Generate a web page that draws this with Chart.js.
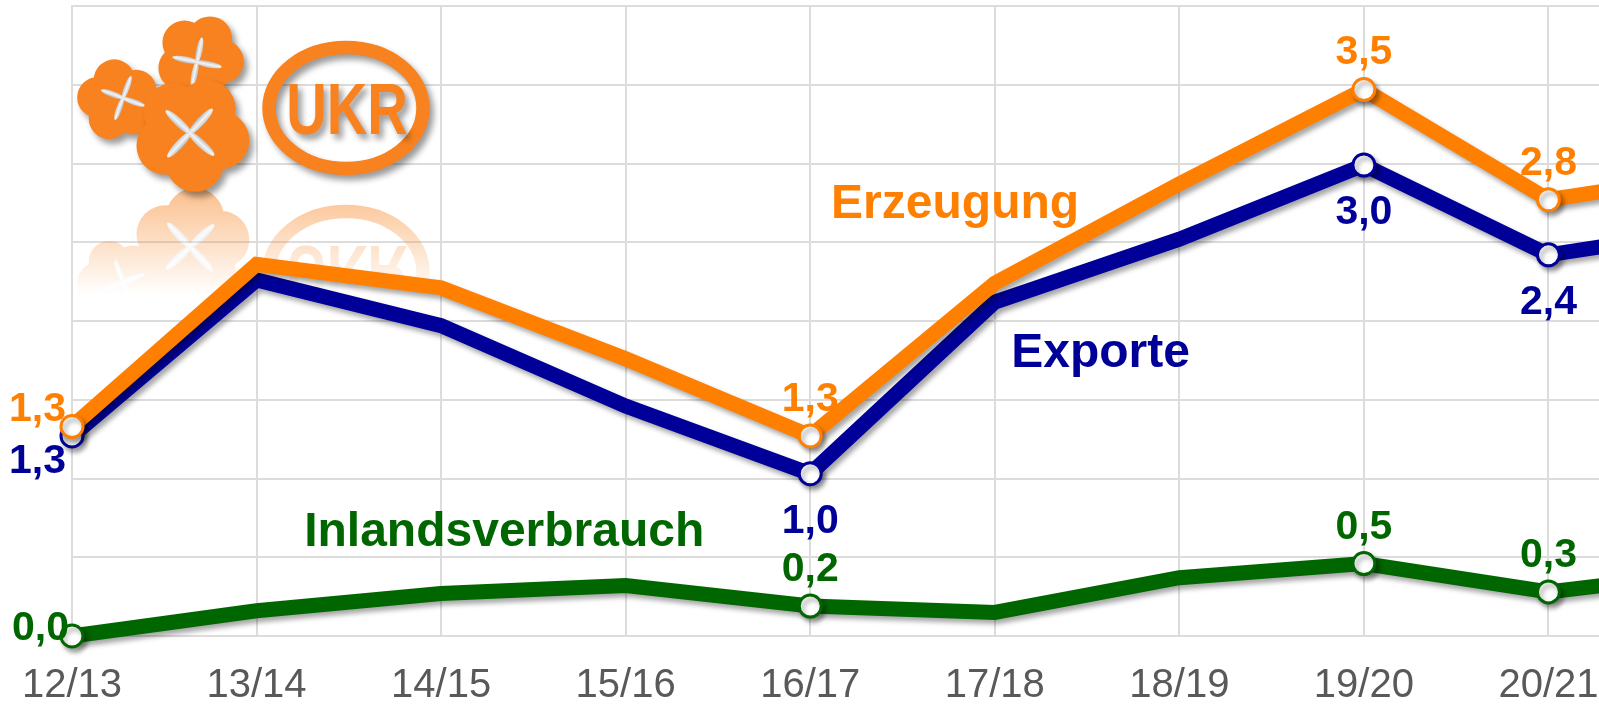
<!DOCTYPE html>
<html>
<head>
<meta charset="utf-8">
<script src="https://cdn.jsdelivr.net/npm/chart.js@4.4.1/dist/chart.umd.min.js"></script>
<style>
html,body{margin:0;padding:0;background:#fff;overflow:hidden}
#wrap{width:1599px;height:705px;overflow:hidden;position:relative;background:#fff}
canvas{display:block}
</style>
</head>
<body>
<div id="wrap"><canvas id="c" width="1800" height="705"></canvas></div>
<script>
// ---------- data ----------
const categories = ['12/13','13/14','14/15','15/16','16/17','17/18','18/19','19/20','20/21','21/22'];
const erzeugung = [1.33, 2.36, 2.21, 1.76, 1.27, 2.24, 2.87, 3.47, 2.77, 2.95];
const exporte = [1.27, 2.26, 1.97, 1.46, 1.03, 2.12, 2.52, 2.99, 2.42, 2.60];
const inlandsverbrauch = [0.00, 0.16, 0.27, 0.32, 0.19, 0.15, 0.37, 0.46, 0.28, 0.42];
const seriesNames = ['Erzeugung', 'Exporte', 'Inlandsverbrauch'];
const labelledIndices = [0, 4, 7, 8];
const yMin = 0, yMax = 4, yStep = 0.5;

// ---------- styles ----------
const FONT = '"Liberation Sans", Arial, Helvetica, sans-serif';
const ORANGE = '#FF7F00', BLUE = '#000099', GREEN = '#006600';
const LOGO_ORANGE = '#F7821F';
const GRID = '#dcdcdc';

const labelPlacement = [
  {first: {align: 'right', dx: -6, dy: -6}, other: {dy: -25}},
  {first: {align: 'right', dx: -6, dy: 37}, other: {dy: 59}},
  {first: {align: 'right', dx: -3, dy: 4}, other: {dy: -25}}
];
const seriesNameAnchors = [
  {x: 4.785, y: 2.654},
  {x: 5.573, y: 1.71},
  {x: 2.342, y: 0.574}
];

const fmt = v => v.toFixed(1).replace('.', ',');

const shadowPlugin = {
  id: 'lineShadow',
  beforeDatasetDraw(chart) {
    const c = chart.ctx;
    c.save();
    c.shadowColor = 'rgba(0,0,0,0.35)';
    c.shadowBlur = 5;
    c.shadowOffsetX = 3;
    c.shadowOffsetY = 4;
  },
  afterDatasetDraw(chart) { chart.ctx.restore(); }
};

function drawFlower(g, cx, cy, R, rot, n) {
  g.beginPath();
  for (let k = 0; k < n; k++) {
    const a = rot + k * 2 * Math.PI / n;
    const px = cx + 0.5 * R * Math.cos(a), py = cy + 0.5 * R * Math.sin(a);
    g.moveTo(px + 0.5 * R, py);
    g.arc(px, py, 0.5 * R, 0, Math.PI * 2);
  }
  g.moveTo(cx + 0.4 * R, cy);
  g.arc(cx, cy, 0.4 * R, 0, Math.PI * 2);
  g.fill();
}
function drawStar(g, cx, cy, R, rot) {
  g.save();
  g.shadowColor = 'transparent';
  g.translate(cx, cy);
  g.rotate(rot);
  for (let k = 0; k < 4; k++) {
    g.rotate(Math.PI / 2);
    const gr = g.createLinearGradient(0, -0.07 * R, 0, 0.07 * R);
    gr.addColorStop(0, '#b8b8b8');
    gr.addColorStop(0.5, '#f4f4f4');
    gr.addColorStop(1, '#c8c8c8');
    g.fillStyle = gr;
    g.beginPath();
    g.ellipse(0.27 * R, 0, 0.3 * R, 0.07 * R, 0, 0, Math.PI * 2);
    g.fill();
  }
  g.restore();
}
function drawLogo(g, withShadow) {
  g.save();
  if (withShadow) {
    g.shadowColor = 'rgba(0,0,0,0.4)';
    g.shadowBlur = 6;
    g.shadowOffsetX = 4;
    g.shadowOffsetY = 5;
  }
  g.fillStyle = LOGO_ORANGE;
  drawFlower(g, 118, 100, 41, -0.5, 5);
  drawStar(g, 123, 98, 41, 0.35);
  g.fillStyle = LOGO_ORANGE;
  drawFlower(g, 200, 58, 44, -1.1, 5);
  drawStar(g, 197, 62, 44, 0.2);
  g.fillStyle = LOGO_ORANGE;
  drawFlower(g, 192, 134, 58, -2.3, 5);
  drawStar(g, 190, 133, 58, 0.75);
  g.strokeStyle = LOGO_ORANGE;
  g.lineWidth = 13.5;
  g.beginPath();
  g.ellipse(346, 108, 77, 60.5, 0, 0, Math.PI * 2);
  g.stroke();
  g.save();
  g.fillStyle = LOGO_ORANGE;
  g.font = 'bold 72px ' + FONT;
  g.textAlign = 'center';
  g.textBaseline = 'alphabetic';
  g.translate(347, 134);
  g.scale(0.78, 1);
  g.fillText('UKR', 0, 0);
  g.restore();
  g.restore();
}

const logoPlugin = {
  id: 'logo',
  beforeDatasetsDraw(chart) {
    const ctx = chart.ctx;
    const off = document.createElement('canvas');
    off.width = 500; off.height = 420;
    const g = off.getContext('2d');
    const axis = 190;
    g.save();
    g.translate(0, 2 * axis);
    g.scale(1, -1);
    drawLogo(g, false);
    g.restore();
    g.globalCompositeOperation = 'destination-in';
    const grad = g.createLinearGradient(0, axis, 0, axis + 105);
    grad.addColorStop(0, 'rgba(0,0,0,0.5)');
    grad.addColorStop(1, 'rgba(0,0,0,0)');
    g.fillStyle = grad;
    g.fillRect(0, 0, 500, 420);
    ctx.drawImage(off, 0, 0);
    drawLogo(ctx, true);
  }
};

const labelsPlugin = {
  id: 'valueLabels',
  afterDatasetsDraw(chart) {
    const ctx = chart.ctx;
    const xs = chart.scales.x, ys = chart.scales.y;
    ctx.save();
    chart.data.datasets.forEach((ds, di) => {
      const meta = chart.getDatasetMeta(di);
      const pl = labelPlacement[di];
      ctx.fillStyle = ds.borderColor;
      ctx.font = 'bold 41px ' + FONT;
      ctx.textBaseline = 'alphabetic';
      labelledIndices.forEach(i => {
        const pt = meta.data[i];
        const txt = fmt(ds.data[i]);
        if (i === 0) {
          ctx.textAlign = pl.first.align;
          ctx.fillText(txt, pt.x + pl.first.dx, pt.y + pl.first.dy);
        } else {
          ctx.textAlign = 'center';
          ctx.fillText(txt, pt.x, pt.y + pl.other.dy);
        }
      });
      const a = seriesNameAnchors[di];
      ctx.font = 'bold 48px ' + FONT;
      ctx.textAlign = 'center';
      ctx.fillText(seriesNames[di], xs.getPixelForValue(a.x), ys.getPixelForValue(a.y));
    });
    ctx.restore();
  }
};

function mkDataset(label, data, color) {
  return {
    label, data,
    borderColor: color,
    backgroundColor: color,
    borderWidth: 15,
    borderJoinStyle: 'miter',
    borderCapStyle: 'butt',
    tension: 0,
    fill: false,
    clip: false,
    pointRadius: c => labelledIndices.includes(c.dataIndex) ? 11 : 0,
    pointHoverRadius: c => labelledIndices.includes(c.dataIndex) ? 11 : 0,
    pointBackgroundColor: '#ffffff',
    pointBorderColor: color,
    pointBorderWidth: 3
  };
}

new Chart(document.getElementById('c'), {
  type: 'line',
  data: {
    labels: categories,
    datasets: [
      mkDataset(seriesNames[0], erzeugung, ORANGE),
      mkDataset(seriesNames[1], exporte, BLUE),
      mkDataset(seriesNames[2], inlandsverbrauch, GREEN)
    ]
  },
  options: {
    responsive: false,
    maintainAspectRatio: false,
    devicePixelRatio: 1,
    animation: false,
    events: [],
    layout: {autoPadding: false, padding: {top: 6, left: 0, right: 67, bottom: 0}},
    plugins: {legend: {display: false}, tooltip: {enabled: false}},
    scales: {
      x: {
        type: 'category',
        offset: false,
        grid: {color: GRID, lineWidth: 2, drawTicks: false},
        border: {display: true, color: GRID, width: 2},
        ticks: {color: '#595959', font: {family: FONT, size: 40}, padding: 26, maxRotation: 0, autoSkip: false},
        afterFit(s) { s.height = 69; s.paddingLeft = 0; s.paddingRight = 0; }
      },
      y: {
        min: yMin, max: yMax,
        ticks: {display: false, stepSize: yStep},
        grid: {color: GRID, lineWidth: 2, drawTicks: false},
        border: {display: true, color: GRID, width: 2},
        afterFit(s) { s.width = 72; s.paddingTop = 0; s.paddingBottom = 0; }
      }
    }
  },
  plugins: [logoPlugin, shadowPlugin, labelsPlugin]
});
</script>
</body>
</html>
